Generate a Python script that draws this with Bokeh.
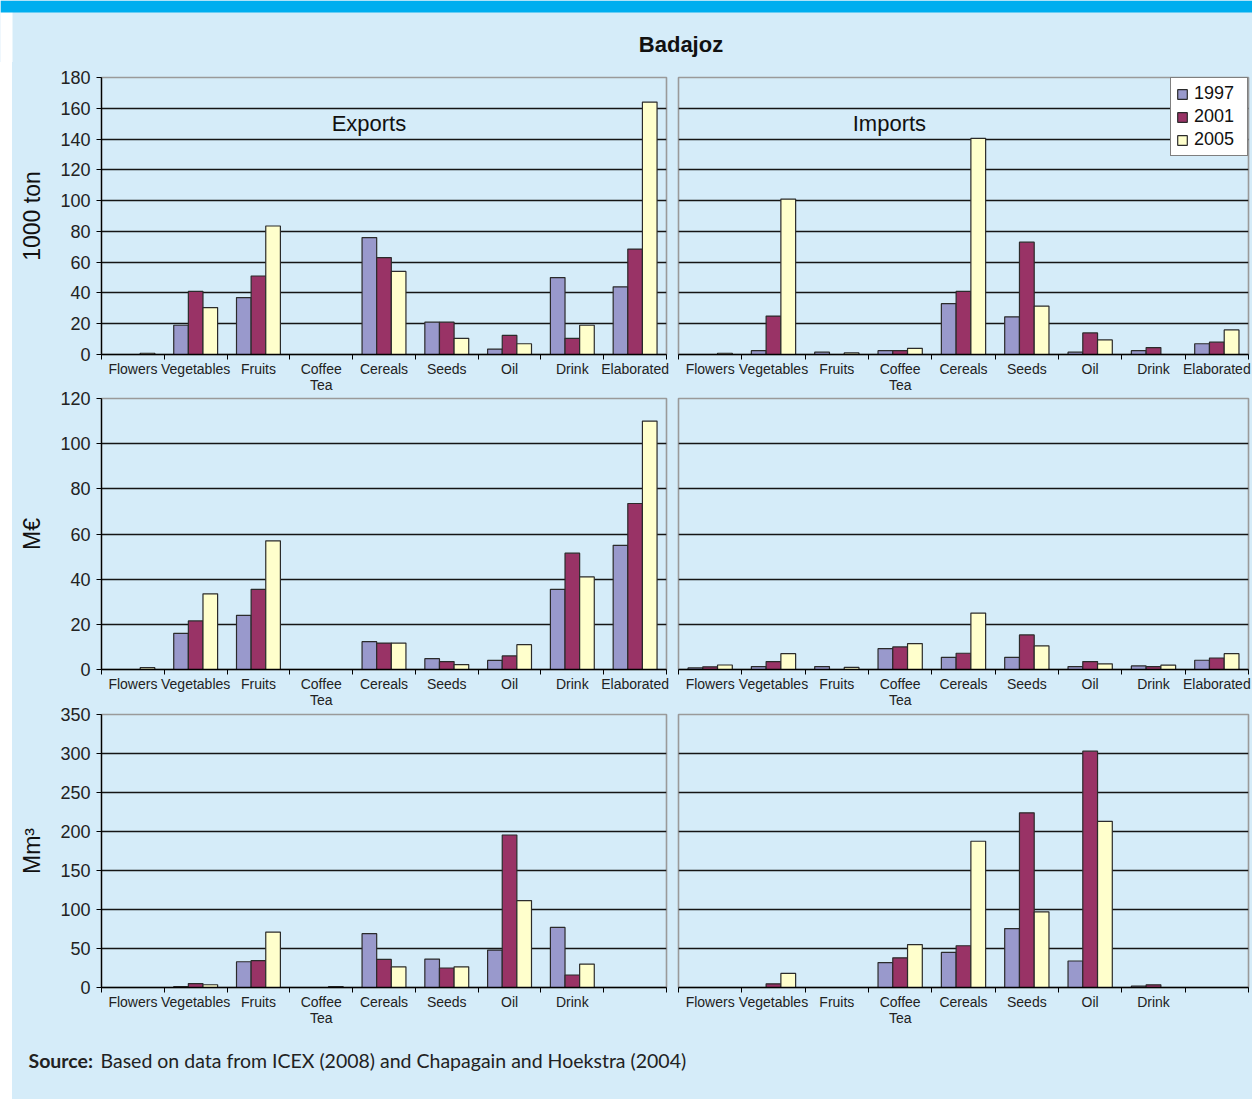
import numpy as np
from bokeh.plotting import figure
from bokeh.layouts import column, row
from bokeh.models import Range1d, FixedTicker, Label, BoxAnnotation
from bokeh.embed import file_html
from bokeh.resources import INLINE

# ---------------- data ----------------
categories = ["Flowers", "Vegetables", "Fruits", "Coffee\nTea", "Cereals",
              "Seeds", "Oil", "Drink", "Elaborated"]
categories_water = ["Flowers", "Vegetables", "Fruits", "Coffee\nTea", "Cereals",
                    "Seeds", "Oil", "Drink", ""]
years = ["1997", "2001", "2005"]

# 1000 ton
exp_ton_1997 = [0, 19, 37, 0, 76, 21, 3.5, 50, 44]
exp_ton_2001 = [0, 41, 51, 0, 63, 21, 12.4, 10.5, 68.5]
exp_ton_2005 = [0.8, 30.5, 83.5, 0, 54, 10.5, 7, 19, 164]
imp_ton_1997 = [0, 2.5, 1.5, 2.5, 33, 24.5, 1.5, 2.5, 7]
imp_ton_2001 = [0, 25, 0, 2.5, 41, 73, 14, 4.5, 8]
imp_ton_2005 = [0.8, 101, 1, 4, 140.5, 31.5, 9.5, 0, 16]
# M EUR
exp_eur_1997 = [0, 16, 24, 0, 12.3, 4.8, 4, 35.5, 55]
exp_eur_2001 = [0, 21.5, 35.5, 0, 11.7, 3.5, 6, 51.5, 73.5]
exp_eur_2005 = [0.8, 33.5, 57, 0, 11.7, 2.2, 11, 41, 110]
imp_eur_1997 = [0.7, 1.3, 1.3, 9.2, 5.4, 5.4, 1.3, 1.6, 4.1]
imp_eur_2001 = [1.2, 3.5, 0, 10, 7.2, 15.3, 3.5, 1.3, 5.1]
imp_eur_2005 = [2, 7, 0.9, 11.5, 25, 10.5, 2.5, 1.9, 7]
# Mm3
exp_m3_1997 = [0, 1.3, 33, 0, 69, 36.5, 48, 77, 0]
exp_m3_2001 = [0, 5, 34.5, 0, 36, 25, 195.5, 16, 0]
exp_m3_2005 = [0, 3.5, 71, 1.3, 26.5, 26.5, 111.5, 30, 0]
imp_m3_1997 = [0, 0, 0, 32, 45, 75.5, 34, 1.7, 0]
imp_m3_2001 = [0, 4.7, 0, 38, 53.5, 224, 303, 3.4, 0]
imp_m3_2005 = [0, 18, 0, 55, 187.5, 97, 213, 0, 0]

y_ticks_ton = [0, 20, 40, 60, 80, 100, 120, 140, 160, 180]
y_ticks_eur = [0, 20, 40, 60, 80, 100, 120]
y_ticks_m3 = [0, 50, 100, 150, 200, 250, 300, 350]

# ---------------- style ----------------
BG = "#D5ECF9"
BAND = "#00AEEF"
COLORS = ["#9999CC", "#993366", "#FFFFCC"]
FONT = "Liberation Sans"
OFFS = [-0.233, 0.0, 0.233]
BW = 0.233


def make_panel(cats, series, yticks, left, top_border, frame_h,
               ylabel=None, title=None, title_x=0, title_y=0, legend=False):
    n = len(cats)
    p = figure(frame_width=565 if left else 570, frame_height=frame_h,
               x_range=Range1d(-0.5, n - 0.5), y_range=Range1d(0, yticks[-1]),
               output_backend="svg", toolbar_location=None,
               y_axis_location="left" if left else None,
               min_border_left=89 if left else 6,
               min_border_right=6 if left else 4,
               min_border_top=top_border, min_border_bottom=46)
    p.background_fill_color = BG
    p.border_fill_color = BG
    p.border_fill_alpha = 0
    p.outline_line_color = "#9a9a9a"
    p.outline_line_width = 1.6
    p.xgrid.visible = False
    p.ygrid.ticker = FixedTicker(ticks=yticks[1:-1])
    p.ygrid.grid_line_color = "#151515"
    p.ygrid.grid_line_width = 1.5

    ax = p.xaxis[0]
    ax.ticker = FixedTicker(ticks=list(range(n)),
                            minor_ticks=[i - 0.5 for i in range(n + 1)])
    ax.major_label_overrides = {i: c for i, c in enumerate(cats)}
    ax.major_tick_out = 0
    ax.major_tick_in = 0
    ax.minor_tick_out = 5
    ax.minor_tick_in = 0
    ax.minor_tick_line_color = "black"
    ax.axis_line_color = "black"
    ax.axis_line_width = 1.3
    ax.major_label_standoff = 1
    ax.major_label_text_font = FONT
    ax.major_label_text_font_size = "14px"
    ax.major_label_text_color = "#222222"
    ax.major_label_text_line_height = 1.0

    if left:
        ay = p.yaxis[0]
        ay.ticker = FixedTicker(ticks=yticks)
        ay.major_tick_out = 5
        ay.major_tick_in = 0
        ay.minor_tick_out = 0
        ay.major_tick_line_color = "black"
        ay.axis_line_color = "black"
        ay.axis_line_width = 1.3
        ay.major_label_standoff = 6
        ay.major_label_text_font = FONT
        ay.major_label_text_font_size = "18px"
        ay.major_label_text_color = "#222222"
        ay.axis_label = ylabel
        ay.axis_label_text_font = FONT
        ay.axis_label_text_font_size = "23px"
        ay.axis_label_text_font_style = "normal"
        ay.axis_label_text_color = "#111111"
        ay.axis_label_standoff = 12

    xs = np.arange(n)
    for k, (yr, vals) in enumerate(zip(years, series)):
        kw = dict(legend_label=yr) if legend else {}
        p.vbar(x=xs + OFFS[k], top=vals, width=BW, fill_color=COLORS[k],
               line_color="#2b2b2b", line_width=1.2, **kw)

    if title:
        p.add_layout(Label(x=title_x, y=title_y, text=title, text_font=FONT,
                           text_font_size="22px", text_align="center",
                           text_baseline="alphabetic", text_color="#111111"))
    if legend:
        lg = p.legend[0]
        lg.location = "top_right"
        lg.margin = 0
        lg.padding = 5
        lg.spacing = 2
        lg.label_height = 21
        lg.label_width = 48
        lg.glyph_width = 12
        lg.glyph_height = 12
        lg.label_standoff = 6
        lg.label_text_font = FONT
        lg.label_text_font_size = "18px"
        lg.label_text_color = "#111111"
        lg.border_line_color = "black"
        lg.border_line_width = 1
        lg.background_fill_color = "white"
        lg.background_fill_alpha = 1
    return p


r1l = make_panel(categories, [exp_ton_1997, exp_ton_2001, exp_ton_2005], y_ticks_ton,
                 True, 15, 277, ylabel="1000 ton", title="Exports",
                 title_x=3.76, title_y=150)
r1r = make_panel(categories, [imp_ton_1997, imp_ton_2001, imp_ton_2005], y_ticks_ton,
                 False, 15, 277, title="Imports", title_x=2.83, title_y=150,
                 legend=True)
r2l = make_panel(categories, [exp_eur_1997, exp_eur_2001, exp_eur_2005], y_ticks_eur,
                 True, 10, 271, ylabel="M€")
r2r = make_panel(categories, [imp_eur_1997, imp_eur_2001, imp_eur_2005], y_ticks_eur,
                 False, 10, 271)
r3l = make_panel(categories_water, [exp_m3_1997, exp_m3_2001, exp_m3_2005], y_ticks_m3,
                 True, 10, 273, ylabel="Mm³")
r3r = make_panel(categories_water, [imp_m3_1997, imp_m3_2001, imp_m3_2005], y_ticks_m3,
                 False, 10, 273)

# header
hdr = figure(width=1252, height=62, x_range=Range1d(0, 1252), y_range=Range1d(0, 62),
             output_backend="svg", toolbar_location=None, min_border=0,
             x_axis_location=None, y_axis_location=None)
hdr.outline_line_color = None
hdr.grid.visible = False
hdr.background_fill_color = BG
hdr.border_fill_color = BG
hdr.add_layout(BoxAnnotation(left=0, right=12, bottom=0, top=62, fill_color="white",
                             fill_alpha=1, line_alpha=0))
hdr.add_layout(BoxAnnotation(left=0, right=1252, bottom=50, top=62, fill_color=BAND,
                             fill_alpha=1, line_alpha=0))
hdr.add_layout(Label(x=680.5, y=18, text="Badajoz", text_font=FONT, text_font_size="22px",
                     text_font_style="bold", text_align="center", text_baseline="middle",
                     text_color="#111111"))

# footer
ftr = figure(width=1240, height=66, x_range=Range1d(0, 1240), y_range=Range1d(0, 66),
             output_backend="svg", toolbar_location=None, min_border=0,
             x_axis_location=None, y_axis_location=None)
ftr.outline_line_color = None
ftr.grid.visible = False
ftr.background_fill_color = BG
ftr.border_fill_color = BG
ftr.add_layout(Label(x=16, y=39, text="Source:", text_font="Lato", text_font_size="19.5px",
                     text_font_style="bold", text_baseline="alphabetic", text_color="#222222"))
ftr.add_layout(Label(x=88, y=39, text="Based on data from ICEX (2008) and Chapagain and Hoekstra (2004)",
                     text_font="Lato", text_font_size="19.5px", text_baseline="alphabetic",
                     text_color="#222222"))

bgstyle = {"background-color": BG}
row1 = row(r1l, r1r, styles=bgstyle)
row2 = row(r2l, r2r, margin=(-12, 0, 0, 0))
row3 = row(r3l, r3r, margin=(-11, 0, 0, 0))
body = column(row1, row2, row3, ftr, styles=bgstyle, margin=(0, 0, 0, 12))
layout = column(hdr, body)

open("out.html", "w").write(file_html(layout, INLINE))
